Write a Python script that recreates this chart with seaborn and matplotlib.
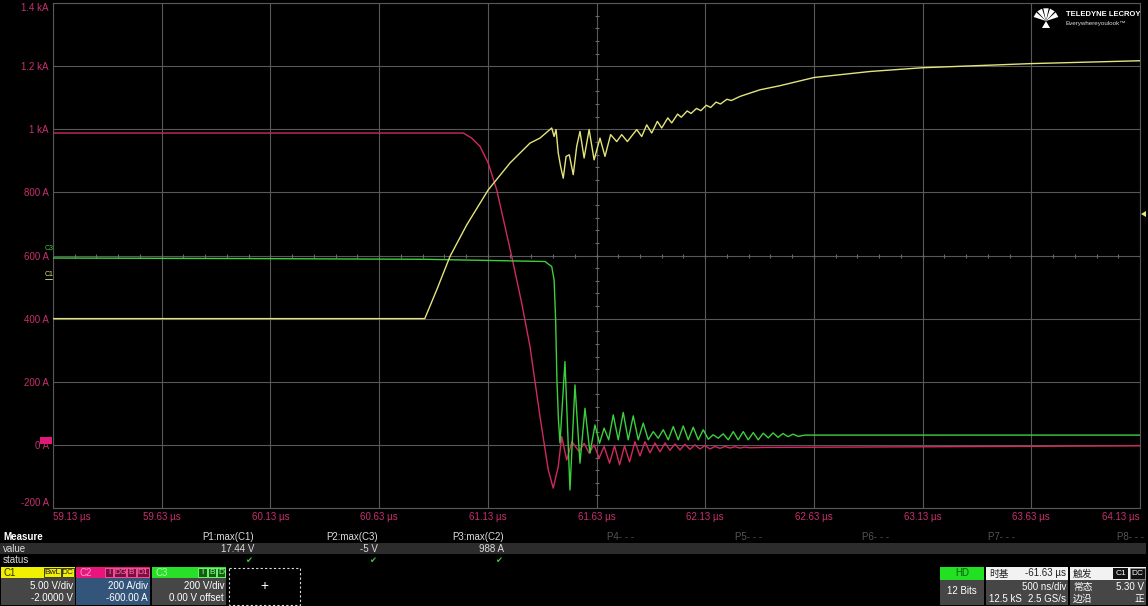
import numpy as np
import pandas as pd
import matplotlib
matplotlib.use("Agg")
import matplotlib.pyplot as plt
from matplotlib.patches import Rectangle, Polygon
import seaborn as sns

# axis ticks (time in µs, vertical scale in A)
x_ticks = [59.13, 59.63, 60.13, 60.63, 61.13, 61.63, 62.13, 62.63, 63.13, 63.63, 64.13]
x_labels = [f"{t:.2f} µs" for t in x_ticks]
y_ticks = [-200, 0, 200, 400, 600, 800, 1000, 1200, 1400]
y_labels = ["-200 A", "0 A", "200 A", "400 A", "600 A", "800 A", "1 kA", "1.2 kA", "1.4 kA"]

# C1 - yellow trace
c1_t = [59.13, 60.84, 60.895, 60.956, 61.033, 61.132, 61.232, 61.324, 61.370, 61.424,
        61.435, 61.444, 61.454, 61.465, 61.477, 61.490, 61.505, 61.523, 61.539, 61.554,
        61.573, 61.596, 61.619, 61.646, 61.669, 61.695, 61.723, 61.746, 61.772, 61.815,
        61.838, 61.861, 61.884, 61.910, 61.930, 61.958, 61.976, 62.003, 62.020, 62.047,
        62.065, 62.090, 62.110, 62.135, 62.155, 62.180, 62.200, 62.230, 62.250, 62.290,
        62.382, 62.474, 62.631, 62.888, 63.132, 63.629, 64.13]
c1_v = [400, 400, 491, 597, 697, 808, 893, 956, 972, 1004,
        977, 999, 925, 882, 845, 914, 919, 856, 946, 993,
        909, 999, 903, 972, 914, 983, 961, 983, 961, 999,
        977, 1014, 988, 1025, 1004, 1036, 1020, 1048, 1038, 1058,
        1050, 1066, 1059, 1076, 1069, 1086, 1080, 1095, 1091, 1104,
        1125, 1138, 1164, 1183, 1195, 1208, 1217]

# C2 - pink trace
c2_t = [59.13, 61.002, 61.017, 61.056, 61.094, 61.132, 61.171, 61.209, 61.240, 61.286,
        61.324, 61.370, 61.408, 61.431, 61.454, 61.470, 61.493, 61.517, 61.550, 61.573,
        61.596, 61.619, 61.642, 61.665, 61.690, 61.713, 61.736, 61.759, 61.782, 61.807,
        61.830, 61.853, 61.876, 61.899, 61.922, 61.945, 61.968, 61.991, 62.014, 62.037,
        62.060, 62.083, 62.106, 62.129, 62.152, 62.175, 62.198, 62.221, 62.244, 62.267,
        62.290, 62.313, 62.336, 62.40, 62.80, 63.50, 64.13]
c2_v = [988, 988, 988, 972, 946, 893, 808, 692, 597, 449,
        312, 90, -79, -137, -69, 26, -48, 10, -21, 5,
        -26, 0, -42, -5, -58, -3, -63, -3, -54, 10,
        -35, 10, -25, 6, -22, 6, -17, 3, -16, 2,
        -14, 0, -13, -2, -13, -5, -11, -5, -10, -6,
        -10, -7, -9, -8, -7, -5, -3]

# C3 - green trace
c3_t = [59.13, 60.13, 60.84, 61.393, 61.424, 61.435, 61.442, 61.448, 61.455, 61.462,
        61.485, 61.508, 61.531, 61.554, 61.577, 61.600, 61.623, 61.644, 61.665, 61.686,
        61.707, 61.730, 61.753, 61.776, 61.799, 61.822, 61.845, 61.868, 61.891, 61.914,
        61.937, 61.960, 61.983, 62.006, 62.029, 62.052, 62.075, 62.098, 62.121, 62.144,
        62.167, 62.190, 62.213, 62.236, 62.259, 62.282, 62.305, 62.328, 62.351, 62.374,
        62.397, 62.420, 62.442, 62.465, 62.488, 62.511, 62.534, 62.557, 62.589, 64.13]
c3_v = [592, 590, 588, 581, 565, 523, 396, 206, 79, 6,
        264, -143, 190, -58, 116, -26, 63, 5, 53, 16,
        95, 16, 103, 16, 92, 16, 69, 16, 42, 21,
        48, 16, 58, 16, 60, 16, 56, 16, 48, 18,
        32, 21, 35, 16, 42, 16, 42, 16, 39, 16,
        37, 22, 38, 24, 36, 26, 34, 27, 31, 31]

# measurement table
meas_names = ["P1:max(C1)", "P2:max(C3)", "P3:max(C2)"]
meas_values = ["17.44 V", "-5 V", "988 A"]
empty_params = ["P4- - -", "P5- - -", "P6- - -", "P7- - -", "P8- - -"]

PINK = "#c8306e"
GRID = "#585858"
W, H = 1148, 606
L, R, T, B = 53, 1140, 3, 508

sns.set_style("dark", {"axes.facecolor": "black", "figure.facecolor": "black"})
plt.rcParams["font.family"] = ["Liberation Sans", "Noto Sans CJK SC", "DejaVu Sans"]

fig = plt.figure(figsize=(W / 100, H / 100), dpi=100)
ax = fig.add_axes([L / W, 1 - B / H, (R - L) / W, (B - T) / H])
ax.set_facecolor("black")

sns.lineplot(x=c1_t, y=c1_v, ax=ax, color="#e4e47c", lw=1.0, sort=False, estimator=None, zorder=4)
sns.lineplot(x=c2_t, y=c2_v, ax=ax, color="#d02a5e", lw=1.0, sort=False, estimator=None, zorder=3)
sns.lineplot(x=c3_t, y=c3_v, ax=ax, color="#3ccf3c", lw=1.0, sort=False, estimator=None, zorder=3)

ax.set_xlim(59.13, 64.13)
ax.set_ylim(-200, 1400)
ax.set_xticks(x_ticks)
ax.set_xticklabels(x_labels)
ax.set_yticks(y_ticks)
ax.set_yticklabels(y_labels)
ax.grid(True, color=GRID, lw=0.8)
ax.set_axisbelow(True)
for s in ax.spines.values():
    s.set_color(GRID)
    s.set_linewidth(0.8)
ax.tick_params(length=0, labelcolor=PINK, labelsize=7, pad=3)
xl = ax.get_xticklabels()
xl[0].set_ha("left")
xl[-1].set_ha("right")
yl = ax.get_yticklabels()
yl[0].set_va("bottom")
yl[-1].set_va("top")
ax.set_xlabel("")
ax.set_ylabel("")

# minor ticks along the centre cross
mx = np.linspace(59.13, 64.13, 51)
my = np.linspace(-200, 1400, 41)
ax.plot(mx, [600] * len(mx), ls="none", marker="|", ms=3.5, mew=0.8, color="#6a6a6a", zorder=2)
ax.plot([61.63] * len(my), my, ls="none", marker="_", ms=3.5, mew=0.8, color="#6a6a6a", zorder=2)

# overlay in pixel coordinates for the scope UI
ui = fig.add_axes([0, 0, 1, 1], zorder=5)
ui.patch.set_alpha(0)
ui.set_xlim(0, W)
ui.set_ylim(H, 0)
ui.axis("off")


def box(x0, y0, x1, y1, fc, ec="none", lw=0.8, ls="-"):
    ui.add_patch(Rectangle((x0, y0), x1 - x0, y1 - y0, fc=fc, ec=ec, lw=lw, ls=ls))


def txt(x, y, s, c="white", ha="left", size=7, **kw):
    ui.text(x, y, s, color=c, ha=ha, va="center", fontsize=size, rotation=0, **kw)


# channel markers on the left
txt(45, 248, "C3", c="#3ccf3c", size=5)
txt(45, 275, "C1", c="#e6e67a", size=5)
ui.plot([45, 52], [279, 279], color="#e6e67a", lw=0.6)
box(40, 437, 52, 444, "#e0187a")
# trigger level marker
ui.add_patch(Polygon([[1141, 214], [1146, 211], [1146, 217]], fc="#e6e67a", ec="none"))

# logo
cx, cy = 1046, 21
for a in [-150, -120, -90, -60, -30]:
    p = np.deg2rad(a + 12)
    q = np.deg2rad(a - 12)
    ui.add_patch(Polygon([[cx, cy], [cx + 13 * np.cos(p), cy + 13 * np.sin(p)],
                          [cx + 13 * np.cos(q), cy + 13 * np.sin(q)]], fc="white", ec="none"))
ui.add_patch(Polygon([[cx - 4, cy + 7], [cx + 4, cy + 7], [cx, cy]], fc="white", ec="none"))
txt(1066, 15, "TELEDYNE LECROY", size=5.5, weight="bold")
txt(1066, 23, "Everywhereyoulook™", c="#dddddd", size=4.5)

# measurement table
txt(3, 537, "Measure", size=7, weight="bold")
box(0, 543, 1146, 554, "#2c2c2c")
txt(3, 548.5, "value", c="#dddddd")
txt(3, 560, "status", c="#dddddd")
for xr, n, v in zip([254, 378, 504], meas_names, meas_values):
    txt(xr, 537, n, c="#dddddd", ha="right")
    txt(xr, 548.5, v, c="#dddddd", ha="right")
    txt(xr - 2, 560.5, "✔", c="#3ccf3c", ha="right", size=6, family="DejaVu Sans")
for xp, n in zip([607, 735, 862, 988, 1117], empty_params):
    txt(xp, 537, n, c="#555555")


# channel descriptor boxes
def chan(x0, x1, head, lower, name, name_c, flags, flag_fc, flag_ec, flag_tc, lines):
    box(x0, 567, x1, 578, head)
    box(x0, 578, x1, 605, lower)
    txt(x0 + 3, 572.5, name, c=name_c, size=7)
    fx = x1 - 1
    for f in reversed(flags):
        w = 4 + 4.2 * len(f)
        box(fx - w, 568, fx, 577, flag_fc, ec=flag_ec, lw=0.6)
        txt(fx - w / 2, 572.5, f, c=flag_tc, ha="center", size=6)
        fx -= w + 1
    txt(x1 - 2, 586, lines[0], ha="right")
    txt(x1 - 2, 598, lines[1], ha="right")


chan(1, 75, "#f0f000", "#464646", "C1", "#303000", ["BwL", "DC"], "#f0f000", "#202020", "#202020",
     ["5.00 V/div", "-2.0000 V"])
chan(76, 150, "#e8157c", "#34557a", "C2", "#ff9cc8", ["I", "DG", "B", "D1"], "#7a1040", "#ff5aa0", "#ff7ab0",
     ["200 A/div", "-600.00 A"])
chan(152, 226, "#28e028", "#464646", "C3", "#b0ffb0", ["I", "B", "D"], "#106010", "#80ff80", "#a0ffa0",
     ["200 V/div", "0.00 V offset"])
box(228.5, 567.5, 299.5, 604.5, "black", ec="#dddddd", lw=0.8, ls=(0, (2, 2)))
txt(264, 586, "+", size=10, ha="center")

# acquisition / timebase / trigger boxes
cjk = ["Noto Sans CJK SC", "DejaVu Sans"]
box(940, 567, 984, 580, "#22e022")
box(940, 580, 984, 605, "#464646")
txt(962, 573.5, "HD", c="#106010", ha="center")
txt(962, 591, "12 Bits", ha="center")

box(986, 567, 1068, 580, "#f2f2f2")
box(986, 580, 1068, 605, "#464646")
txt(989, 573.5, "时基", c="#222222", family=cjk, size=7)
txt(1066, 573.5, "-61.63 µs", c="#222222", ha="right")
txt(1066, 587, "500 ns/div", ha="right")
txt(989, 599, "12.5 kS")
txt(1066, 599, "2.5 GS/s", ha="right")

box(1070, 567, 1146, 580, "#f2f2f2")
box(1070, 580, 1146, 605, "#464646")
txt(1073, 573.5, "触发", c="#222222", family=cjk, size=7)
box(1113, 568, 1128, 579, "#111111")
txt(1120.5, 573.5, "C1", ha="center", size=6)
box(1130, 568, 1145, 579, "#111111", ec="#888888", lw=0.5)
txt(1137.5, 573.5, "DC", ha="center", size=6)
txt(1073, 587, "常态", family=cjk, size=7)
txt(1144, 587, "5.30 V", ha="right")
txt(1073, 599, "边沿", family=cjk, size=7)
txt(1144, 599, "正", ha="right", family=cjk, size=7)

fig.savefig("out.png", dpi=100, facecolor="black")
